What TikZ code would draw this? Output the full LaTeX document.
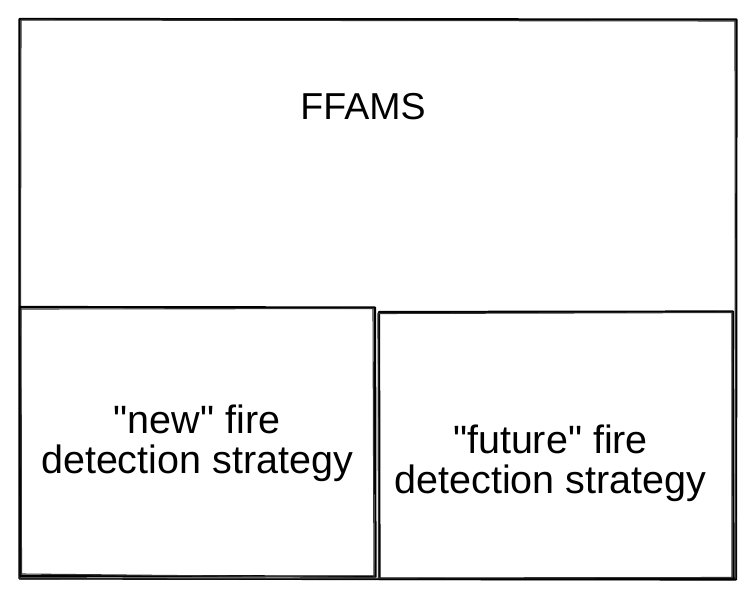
\documentclass[tikz,border=0pt]{standalone}
\usepackage{fontspec}
\setmainfont{Liberation Sans}[Ligatures=TeXOff]
\begin{document}
\begin{tikzpicture}[x=1pt,y=-1pt,
  stroke/.style={draw=black,line width=2.2pt,line join=round,line cap=round},
  stroke2/.style={draw=black!80,line width=1.1pt,line join=round,line cap=round},
  label/.style={font=\fontsize{39.5}{40}\selectfont,align=center,inner sep=0pt}]
\useasboundingbox[fill=white] (0,0) rectangle (756,600);
% outer box
\draw[stroke] (19.5,19) -- (736.5,19.5) -- (736,579.5) -- (19.5,578.5) -- cycle;
\draw[stroke2] (21,20) -- (735,21) -- (735.5,578) -- (20,579) -- cycle;
% left box
\draw[stroke] (20,307) -- (375,307.5) -- (375.5,576.5) -- (20.5,576) -- cycle;
\draw[stroke2] (21,309) -- (373,308.5) -- (374,577.5) -- (21.5,574) -- cycle;
% right box
\draw[stroke] (379,312) -- (733,311.5) -- (733.5,579) -- (379.5,579) -- cycle;
\draw[stroke2] (378,313.5) -- (732,312.5) -- (732,577.5) -- (378.5,578) -- cycle;
% labels
\node[label,font=\fontsize{37.5}{40}\selectfont] (ffams) at (363,106.5) {FFAMS};
\node[label] (newfds) at (197,443) {"new" fire\\detection strategy};
\node[label] (futfds) at (550.5,463) {"future" fire\\detection strategy};
\end{tikzpicture}
\end{document}
